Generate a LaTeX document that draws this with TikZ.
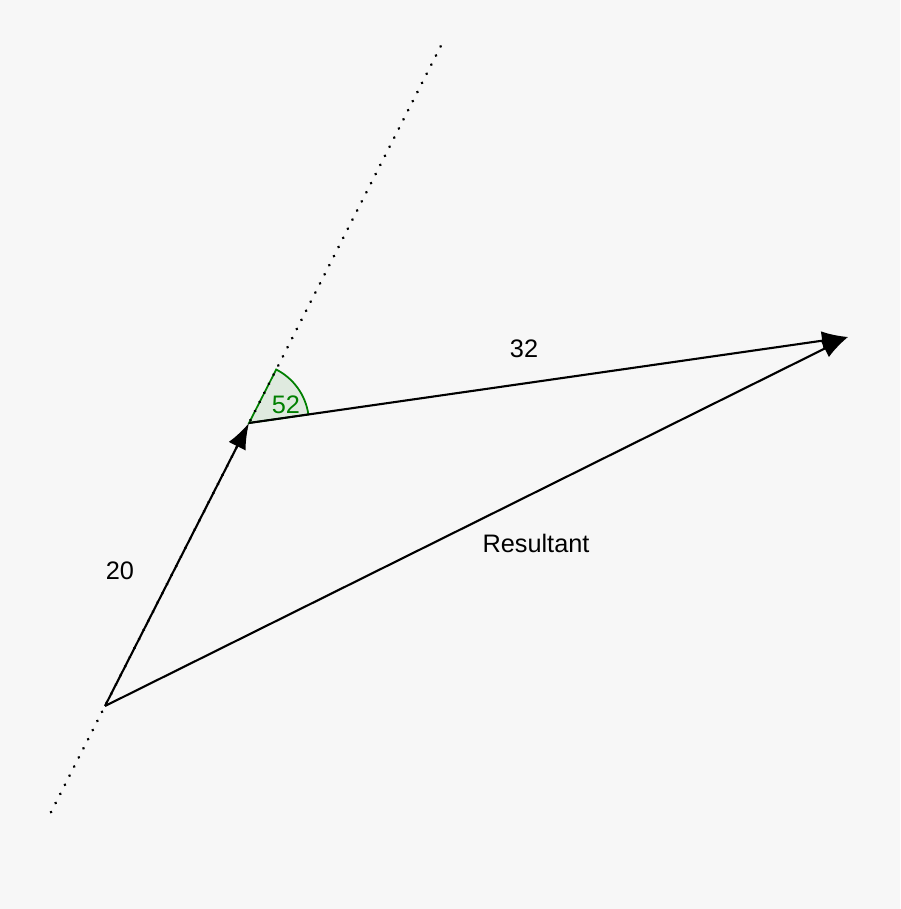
\documentclass[tikz,border=0pt]{standalone}
\usepackage{fontspec}
\setmainfont{Liberation Sans}
\usetikzlibrary{arrows.meta,calc}
\definecolor{bggray}{HTML}{F7F7F7}
\definecolor{anglegreen}{HTML}{008000}
\definecolor{anglefill}{HTML}{DFEADF}
\tikzset{
  vec/.style={line width=0.6pt, -{Latex[length=0.26cm,width=0.19cm]}},
  guide/.style={line width=0.85pt, line cap=round, dash pattern=on 0.01pt off 2.9pt},
  lbl/.style={font=\fontsize{7.2}{8}\selectfont, inner sep=0pt}
}
\begin{document}
\begin{tikzpicture}
        %background
        \fill[bggray] (0,0) rectangle (9,9.09);
        \useasboundingbox (0,0) rectangle (9,9.09);

        %points
        \coordinate (O) at (1.05,2.03);
        \coordinate (A) at (2.49,4.86);
        \coordinate (B) at (8.48,5.72);
        \coordinate (g1) at ($(O)!-0.375!(A)$);
        \coordinate (g2) at ($(O)!2.35!(A)$);

        %angle
        \filldraw[fill=anglefill, draw=anglegreen, line width=0.5pt] (A) -- ++(8.17:0.6) arc (8.17:63.03:0.6) -- cycle;
        \node[lbl, text=anglegreen] (ang) at (2.86,5.04) {52};

        %guide line
        \draw[guide] (g1) -- (g2);

        %vectors
        \draw[vec] (O) -- (A);
        \draw[vec] (A) -- (B);
        \draw[vec] (O) -- (B);

        %labels
        \node[lbl] (first) at (1.20,3.38) {20};
        \node[lbl] (second) at (5.24,5.60) {32};
        \node[lbl] (res) at (5.36,3.66) {Resultant};
    \end{tikzpicture}
\end{document}
